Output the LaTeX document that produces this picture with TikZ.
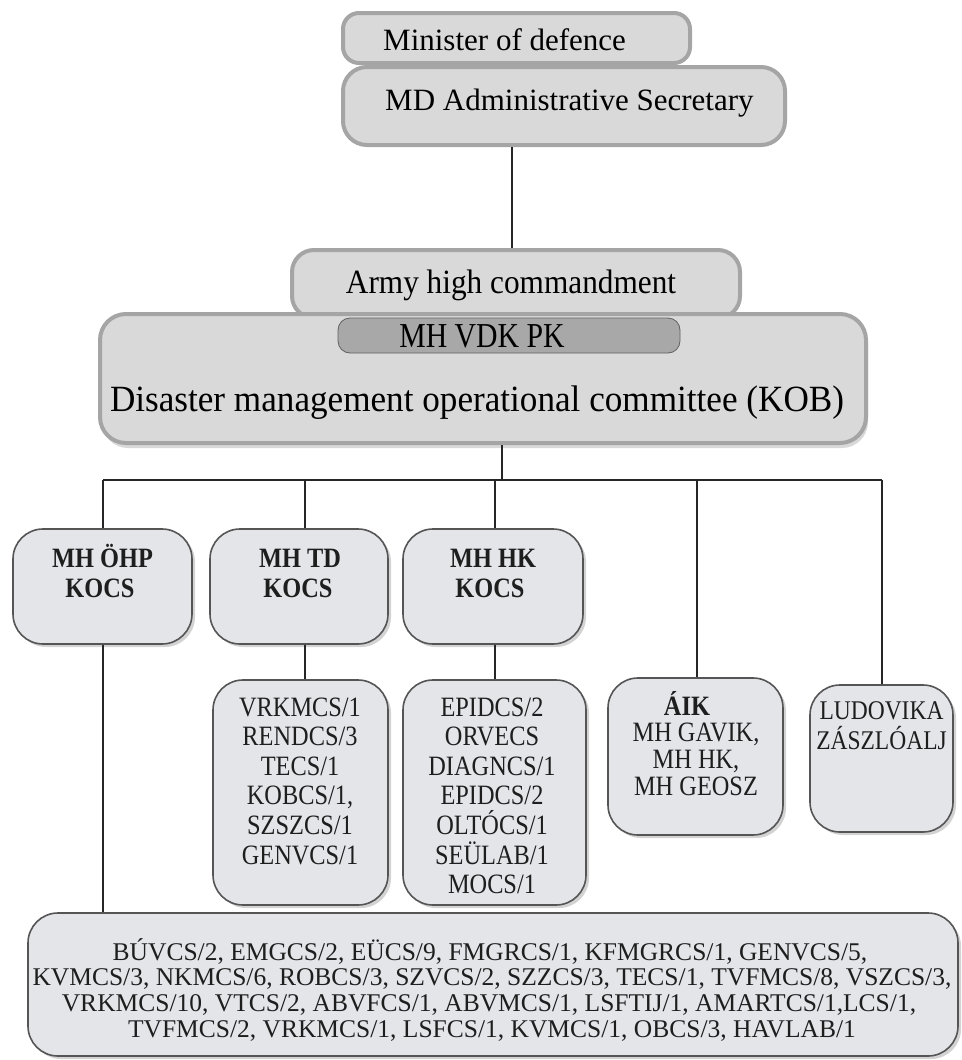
\documentclass[tikz,border=0pt]{standalone}
\usepackage{fontspec}
\setmainfont{Liberation Serif}
\newfontfamily\armyfont[FakeStretch=0.92]{Liberation Serif}
\newfontfamily\kobfont[FakeStretch=0.95]{Liberation Serif}
\newfontfamily\vdkfont[FakeStretch=0.85]{Liberation Serif}
\newfontfamily\condfont[FakeStretch=0.87]{Liberation Serif}
\usetikzlibrary{shadows,calc}
\definecolor{topfill}{HTML}{D9D9D9}
\definecolor{topline}{HTML}{A5A5A5}
\definecolor{vdkfill}{HTML}{A8A8A8}
\definecolor{vdkline}{HTML}{606060}
\definecolor{lowfill}{HTML}{E3E5E9}
\definecolor{lowline}{HTML}{555555}
\definecolor{lowtxt}{HTML}{1E1E1E}
\begin{document}
\begin{tikzpicture}[x=1pt,y=-1pt,
  topbox/.style={draw=topline, line width=4pt, fill=topfill, inner sep=0pt},
  vdkbox/.style={draw=vdkline, line width=0.8pt, fill=vdkfill, rounded corners=12pt, inner sep=0pt},
  lowbox/.style={draw=lowline, line width=1.6pt, fill=lowfill, rounded corners=30pt, inner sep=0pt,
     drop shadow={opacity=0.35, shadow xshift=3pt, shadow yshift=-3pt}},
  conn/.style={draw=black!85, line width=1.3pt},
  toptext/.style={font=\fontsize{31}{36}\selectfont, inner sep=0pt},
  lowtext/.style={font=\condfont\fontsize{28}{30}\selectfont, inner sep=0pt, text=lowtxt},
  boldtext/.style={font=\condfont\bfseries\fontsize{28}{30}\selectfont, inner sep=0pt, text=lowtxt},
  bottext/.style={font=\fontsize{25.5}{28}\selectfont, inner sep=0pt, text=lowtxt},
]
\useasboundingbox (0,0) rectangle (961,1060);

% top level
\node[topbox, rounded corners=16pt, minimum width=347pt, minimum height=50pt] (min) at (516.5,38) {};
\node[toptext, anchor=base west] (mint) at (383,50) {Minister of defence};
\node[topbox, rounded corners=24pt, minimum width=442pt, minimum height=78pt] (mds) at (564,106) {};
\node[toptext, anchor=base west] (mdst) at (385,110) {MD Administrative Secretary};

\node[topbox, rounded corners=22pt, minimum width=448pt, minimum height=68pt] (army) at (516,284) {};
\node[inner sep=0pt, anchor=base, font=\armyfont\fontsize{34}{38}\selectfont] (armyt) at (511,293) {Army high commandment};

\node[topbox, rounded corners=26pt, minimum width=766pt, minimum height=129pt,
  drop shadow={opacity=0.3, shadow xshift=2pt, shadow yshift=-5pt}] (kob) at (483,378.5) {};
\node[vdkbox, minimum width=342pt, minimum height=35pt] (vdk) at (509,335.5) {};
\node[inner sep=0pt, anchor=base, font=\vdkfont\fontsize{35}{38}\selectfont] (vdkt) at (482,347) {MH VDK PK};
\node[inner sep=0pt, anchor=base, font=\kobfont\fontsize{37}{40}\selectfont] (kobt) at (477,411) {Disaster management operational committee (KOB)};

% second level boxes
\node[lowbox, minimum width=179pt, minimum height=115pt] (ohp) at (102.5,586.5) {};
\node[boldtext, anchor=base] (ohp1) at (102.5,567) {MH ÖHP};
\node[boldtext, anchor=base] (ohp2) at (100,597) {KOCS};

\node[lowbox, minimum width=178pt, minimum height=115pt] (tdk) at (299,586.5) {};
\node[boldtext, anchor=base] (tdk1) at (300,567) {MH TD};
\node[boldtext, anchor=base] (tdk2) at (298,597) {KOCS};

\node[lowbox, minimum width=180pt, minimum height=115pt] (hkk) at (493,586.5) {};
\node[boldtext, anchor=base] (hkk1) at (493,567) {MH HK};
\node[boldtext, anchor=base] (hkk2) at (490,597) {KOCS};

% third level boxes
\node[lowbox, minimum width=175pt, minimum height=225pt] (tdl) at (300.5,792.5) {};
\foreach[count=\i] \t in {VRKMCS/1, RENDCS/3, TECS/1, {KOBCS/1,}, SZSZCS/1, GENVCS/1}
  \node[lowtext, anchor=base] (tdl\i) at (300,716+29.6*\i-29.6) {\t};

\node[lowbox, minimum width=183pt, minimum height=225pt] (hkl) at (494.5,792.5) {};
\foreach[count=\i] \t in {EPIDCS/2, ORVECS, DIAGNCS/1, EPIDCS/2, OLTÓCS/1, SEÜLAB/1, MOCS/1}
  \node[lowtext, anchor=base] (hkl\i) at (492,716+29.6*\i-29.6) {\t};

\node[lowbox, minimum width=175pt, minimum height=157pt] (aik) at (695.5,756.5) {};
\node[boldtext, anchor=base] (aik1) at (687,715) {ÁIK};
\node[lowtext, anchor=base] (aik2) at (696,741) {MH GAVIK,};
\node[lowtext, anchor=base] (aik3) at (696,768) {MH HK,};
\node[lowtext, anchor=base] (aik4) at (696,795) {MH GEOSZ};

\node[lowbox, minimum width=143pt, minimum height=147pt] (lud) at (881.5,758.5) {};
\node[lowtext, anchor=base, font=\condfont\fontsize{27}{30}\selectfont] (lud1) at (881.5,719) {LUDOVIKA};
\node[lowtext, anchor=base, font=\condfont\fontsize{27}{30}\selectfont] (lud2) at (881.5,749) {ZÁSZLÓALJ};

% bottom box
\node[lowbox, minimum width=930pt, minimum height=143pt] (bot) at (493,984.5) {};
\node[bottext, anchor=base] (bot1) at (490,960) {BÚVCS/2, EMGCS/2, EÜCS/9, FMGRCS/1, KFMGRCS/1, GENVCS/5,};
\node[bottext, anchor=base] (bot2) at (492,985) {KVMCS/3, NKMCS/6, ROBCS/3, SZVCS/2, SZZCS/3, TECS/1, TVFMCS/8, VSZCS/3,};
\node[bottext, anchor=base] (bot3) at (489,1011) {VRKMCS/10, VTCS/2, ABVFCS/1, ABVMCS/1, LSFTIJ/1, AMARTCS/1,LCS/1,};
\node[bottext, anchor=base] (bot4) at (492,1037) {TVFMCS/2, VRKMCS/1, LSFCS/1, KVMCS/1, OBCS/3, HAVLAB/1};

% connectors
\coordinate (c1) at (512,200);
\draw[conn] (mds.south -| c1) -- (army.north -| c1);
\coordinate (hub) at (502,480);
\coordinate (hl) at (103,480);
\coordinate (hr) at (882,480);
\coordinate (htd) at (305,480);
\coordinate (hhk) at (495,480);
\coordinate (haik) at (697,480);
\draw[conn] (kob.south -| hub) -- (hub);
\draw[conn] (hl) -- (hr);
\draw[conn, line width=2.6pt] (hl) -- ++(24,0);
\draw[conn] (hl) -- (ohp.north -| hl);
\draw[conn] (htd) -- (tdk.north -| htd);
\draw[conn] (hhk) -- (hkk.north -| hhk);
\draw[conn] (haik) -- (aik.north -| haik);
\draw[conn] (hr) -- (lud.north -| hr);
\draw[conn] (tdk.south -| htd) -- (tdl.north -| htd);
\draw[conn] (hkk.south -| hhk) -- (hkl.north -| hhk);
\draw[conn] (ohp.south -| hl) -- (bot.north -| hl);
\end{tikzpicture}
\end{document}
